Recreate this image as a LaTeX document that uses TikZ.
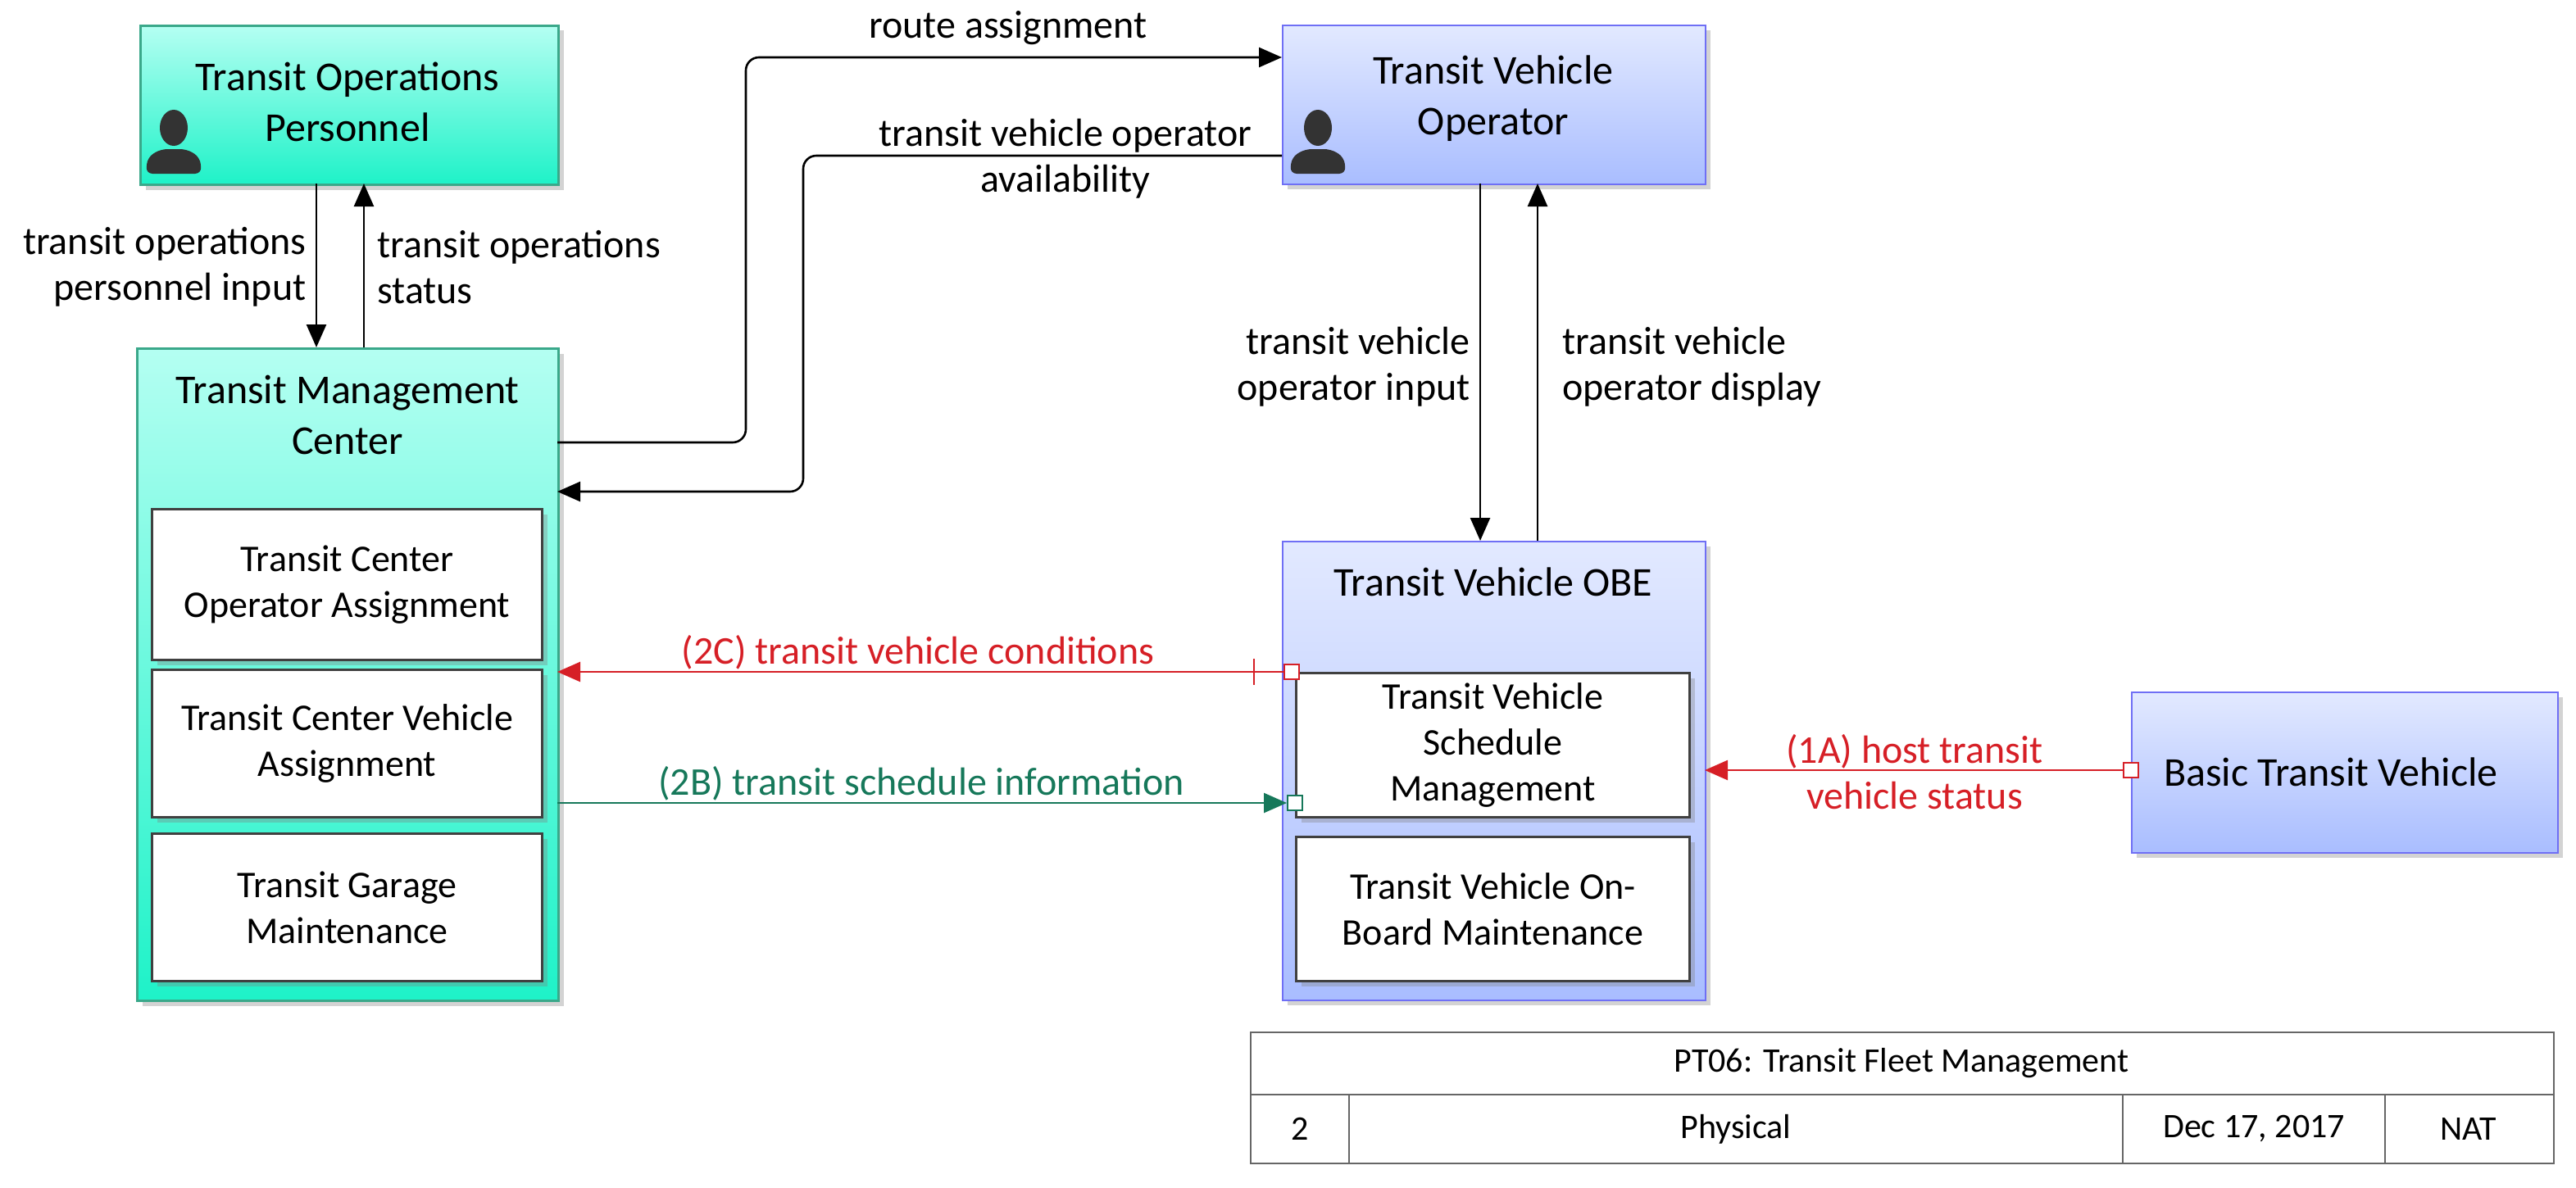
\documentclass[tikz,border=0pt]{standalone}
\usepackage{fontspec}
\setmainfont{Carlito}
\usetikzlibrary{arrows.meta,shadows}
\definecolor{tealA}{HTML}{B4FFF2}
\definecolor{tealB}{HTML}{1EF2C8}
\definecolor{tealE}{HTML}{3AA88A}
\definecolor{blueA}{HTML}{E2E9FF}
\definecolor{blueB}{HTML}{A9BDFF}
\definecolor{blueE}{HTML}{6F6FF5}
\definecolor{redL}{HTML}{D61F26}
\definecolor{grnL}{HTML}{16785A}
\begin{document}
\begin{tikzpicture}[x=1pt,y=-1pt,
  every node/.style={font=\fontsize{24}{28}\selectfont},
  ttl/.style={align=center,inner sep=1pt,font=\fontsize{25}{31}\selectfont},
  shad/.style={drop shadow={shadow xshift=3pt,shadow yshift=-3pt,opacity=0.35,fill=gray}},
  tealbox/.style={draw=tealE,line width=1.5pt,top color=tealA,bottom color=tealB,shad},
  bluebox/.style={draw=blueE,line width=1.2pt,top color=blueA,bottom color=blueB,shad},
  sub/.style={draw=black!75,line width=1.5pt,fill=white,shad,align=center,inner sep=0pt,font=\fontsize{23}{28}\selectfont},
  flow/.style={line width=1.3pt,-{Triangle[length=14pt,width=12pt]}},
  lab/.style={align=center,inner sep=1pt},
  cell/.style={font=\fontsize{21}{24}\selectfont},
  port/.style={draw,fill=white,line width=1.2pt,minimum size=9pt,inner sep=0pt}
]
\useasboundingbox (0,0) rectangle (1571.5,725);
\newcommand\person[1]{\begin{scope}[shift={#1}]
 \fill[black!80] (0,-14) ellipse (8.5pt and 11pt);
 \fill[black!80,rounded corners=4pt] (-17,14) -- (-16,4) -- (-8,-1) -- (8,-1) -- (16,4) -- (17,14) -- cycle;
\end{scope}}
% boxes
\node[tealbox,minimum width=255pt,minimum height=97pt,anchor=north west] (top) at (85,15) {};
\node[ttl] at (212,62) {Transit Operations\\Personnel};
\person{(106,92)}
\node[tealbox,minimum width=257pt,minimum height=398pt,anchor=north west] (tmc) at (83,212) {};
\node[ttl] at (212,253) {Transit Management\\Center};
\node[sub,minimum width=238pt,minimum height=92pt,anchor=north west] (s1) at (92,310) {Transit Center\\Operator Assignment};
\node[sub,minimum width=238pt,minimum height=90pt,anchor=north west] (s2) at (92,408) {Transit Center Vehicle\\Assignment};
\node[sub,minimum width=238pt,minimum height=90pt,anchor=north west] (s3) at (92,508) {Transit Garage\\Maintenance};
\node[bluebox,minimum width=258pt,minimum height=97pt,anchor=north west] (tvo) at (782,15) {};
\node[ttl] at (911,60) {Transit Vehicle\\Operator};
\person{(804,92)}
\node[bluebox,minimum width=258pt,minimum height=280pt,anchor=north west] (obe) at (782,330) {};
\node[ttl] at (911,355) {Transit Vehicle OBE};
\node[sub,minimum width=240pt,minimum height=88pt,anchor=north west] (o1) at (790,410) {Transit Vehicle\\Schedule\\Management};
\node[sub,minimum width=240pt,minimum height=88pt,anchor=north west] (o2) at (790,510) {Transit Vehicle On-\\Board Maintenance};
\node[bluebox,minimum width=260pt,minimum height=98pt,anchor=north west] (btv) at (1300,422) {};
\node[ttl] at (1422,471) {Basic Transit Vehicle};
% coordinates
\coordinate (a1) at (193,112); \coordinate (a2) at (193,212);
\coordinate (b1) at (222,212); \coordinate (b2) at (222,112);
\coordinate (r1) at (340,270); \coordinate (r2) at (782,35);
\coordinate (v1) at (782,95); \coordinate (v2) at (340,300);
\coordinate (c1) at (903,112); \coordinate (c2) at (903,330);
\coordinate (d1) at (938,330); \coordinate (d2) at (938,112);
\coordinate (e1) at (788,410); \coordinate (e2) at (340,410);
\coordinate (g1) at (340,490); \coordinate (g2) at (785,490);
\coordinate (h1) at (1300,470); \coordinate (h2) at (1040,470);
% flows
\draw[flow] (a1) -- (a2);
\draw[flow] (b1) -- (b2);
\node[lab,align=right,anchor=east] at (188,163) {transit operations\\personnel input};
\node[lab,align=left,anchor=west] at (229,163) {transit operations\\status};
\draw[flow,rounded corners=8pt] (r1) -| (455,35) -- (r2);
\node[lab] at (615,17) {route assignment};
\draw[flow,rounded corners=8pt] (v1) -| (490,300) -- (v2);
\node[lab] at (650,97) {transit vehicle operator\\availability};
\draw[flow] (c1) -- (c2);
\draw[flow] (d1) -- (d2);
\node[lab,align=right,anchor=east] at (898,224) {transit vehicle\\operator input};
\node[lab,align=left,anchor=west] at (952,224) {transit vehicle\\operator display};
\draw[flow,redL] (e1) -- (e2);
\draw[redL,line width=1.3pt] (765,402) -- (765,418);
\node[port,draw=redL] (pe) at (e1) {};
\node[lab,text=redL] at (560,398) {(2C) transit vehicle conditions};
\draw[flow,grnL] (g1) -- (g2);
\node[port,draw=grnL] (pg) at (790,490) {};
\node[lab,text=grnL] at (562,478) {(2B) transit schedule information};
\draw[flow,redL] (h1) -- (h2);
\node[port,draw=redL] (ph) at (h1) {};
\node[lab,text=redL] at (1168,471) {(1A) host transit\\vehicle status};
% table
\draw[black!60,line width=1pt] (763,630) rectangle (1558,710) (763,668) -- (1558,668)
  (823,668) -- (823,710) (1295,668) -- (1295,710) (1455,668) -- (1455,710);
\node[cell] (t0) at (1160,649) {PT06: Transit Fleet Management};
\node[cell] (t1) at (793,689) {2};
\node[cell] (t2) at (1059,689) {Physical};
\node[cell] (t3) at (1375,689) {Dec 17, 2017};
\node[cell] (t4) at (1506,689) {NAT};
\end{tikzpicture}
\end{document}
